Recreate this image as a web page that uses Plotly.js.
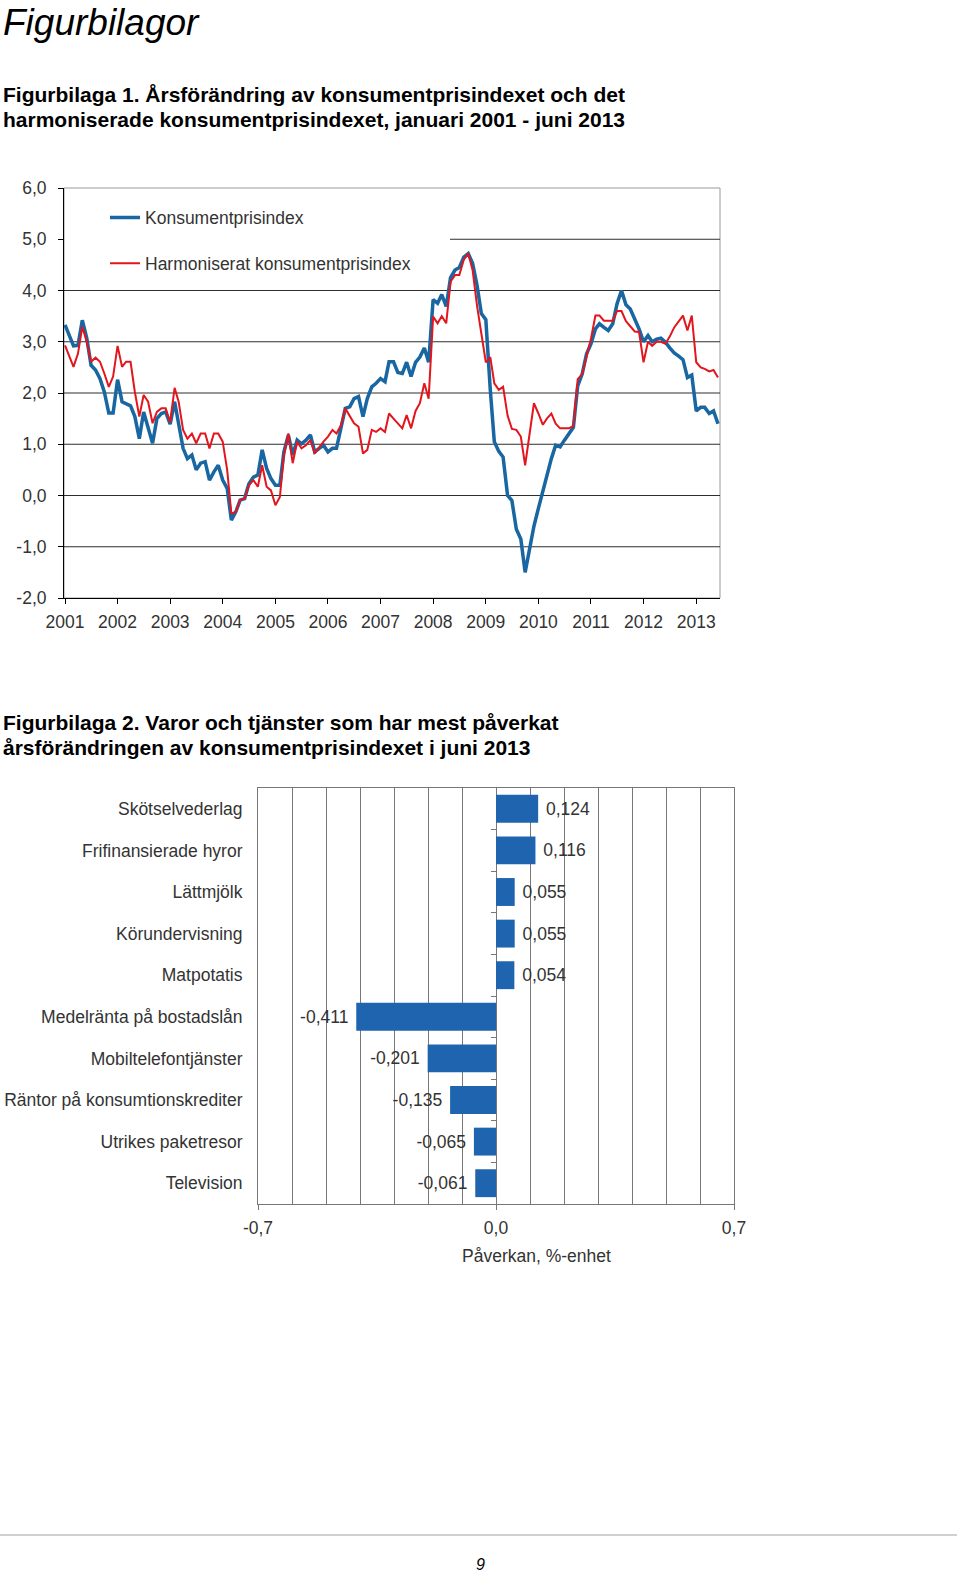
<!DOCTYPE html>
<html>
<head>
<meta charset="utf-8">
<script src="https://cdn.plot.ly/plotly-3.0.1.min.js"></script>
<style>
  html, body { margin: 0; padding: 0; background: #fff; }
  #page { width: 960px; height: 1572px; }
</style>
</head>
<body>
<div id="page"></div>
<script>
// ---------------- DATA ----------------
// Figurbilaga 1: monthly 12-month change (%), January 2001 – June 2013
const startYear = 2001;
const seriesNames = ['Konsumentprisindex', 'Harmoniserat konsumentprisindex'];
const kpi = [
  3.33, 3.13, 2.92, 2.93, 3.42, 3.07, 2.54, 2.45, 2.28, 2.02, 1.61, 1.61,   // 2001
  2.26, 1.83, 1.80, 1.75, 1.54, 1.11, 1.63, 1.31, 1.02, 1.50, 1.60, 1.63,   // 2002
  1.39, 1.83, 1.37, 0.92, 0.72, 0.79, 0.50, 0.63, 0.66, 0.30, 0.46, 0.59,   // 2003
  0.30, 0.14, -0.48, -0.32, -0.09, -0.06, 0.23, 0.36, 0.40, 0.89, 0.53, 0.33, // 2004
  0.20, 0.20, 0.85, 1.18, 0.79, 1.08, 1.01, 1.08, 1.18, 0.85, 0.92, 0.98,   // 2005
  0.85, 0.92, 0.92, 1.31, 1.70, 1.73, 1.89, 1.93, 1.54, 1.89, 2.12, 2.19,   // 2006
  2.28, 2.22, 2.61, 2.61, 2.40, 2.38, 2.60, 2.32, 2.60, 2.70, 2.88, 2.60,   // 2007
  3.82, 3.75, 3.92, 3.69, 4.25, 4.40, 4.45, 4.65, 4.72, 4.53, 4.10, 3.55,   // 2008
  3.43, 2.06, 1.05, 0.86, 0.75, 0.00, -0.10, -0.66, -0.85, -1.50, -1.00, -0.60, // 2009
  -0.25, 0.10, 0.43, 0.72, 0.98, 0.95, 1.08, 1.20, 1.33, 2.14, 2.37, 2.76, // 2010
  2.96, 3.25, 3.35, 3.28, 3.22, 3.35, 3.74, 4.00, 3.72, 3.64, 3.45, 3.25,   // 2011
  3.00, 3.12, 3.00, 3.05, 3.07, 2.99, 2.88, 2.78, 2.72, 2.65, 2.30, 2.35,   // 2012
  1.65, 1.72, 1.72, 1.60, 1.65, 1.40                                        // 2013
];
const hikp = [
  2.93, 2.71, 2.51, 2.77, 3.29, 3.00, 2.61, 2.69, 2.61, 2.38, 2.12, 2.32,   // 2001
  2.92, 2.51, 2.61, 2.61, 2.02, 1.54, 1.96, 1.83, 1.41, 1.63, 1.70, 1.70,   // 2002
  1.43, 2.10, 1.83, 1.28, 1.11, 1.21, 1.02, 1.21, 1.21, 0.92, 1.21, 1.21,   // 2003
  1.05, 0.50, -0.35, -0.32, -0.09, -0.06, 0.20, 0.30, 0.17, 0.59, 0.17, 0.10, // 2004
  -0.19, -0.03, 0.79, 1.21, 0.63, 1.05, 0.92, 0.98, 1.08, 0.82, 0.95, 1.05, // 2005
  1.15, 1.28, 1.21, 1.37, 1.70, 1.54, 1.41, 1.34, 0.82, 0.89, 1.28, 1.24,   // 2006
  1.31, 1.24, 1.60, 1.50, 1.41, 1.31, 1.57, 1.31, 1.65, 1.80, 2.19, 1.89,   // 2007
  3.49, 3.36, 3.50, 3.36, 4.17, 4.30, 4.30, 4.60, 4.72, 4.40, 3.70, 3.20,   // 2008
  2.60, 2.70, 2.19, 2.06, 2.12, 1.56, 1.30, 1.28, 1.15, 0.59, 1.20, 1.80,   // 2009
  1.60, 1.38, 1.50, 1.60, 1.40, 1.31, 1.31, 1.31, 1.36, 2.27, 2.37, 2.73,   // 2010
  3.06, 3.51, 3.51, 3.41, 3.41, 3.41, 3.60, 3.60, 3.40, 3.30, 3.20, 3.19,   // 2011
  2.60, 3.00, 2.92, 3.00, 3.00, 2.96, 3.10, 3.28, 3.41, 3.51, 3.22, 3.51,   // 2012
  2.60, 2.50, 2.47, 2.42, 2.45, 2.30                                        // 2013
];
const yearLabels = ['2001','2002','2003','2004','2005','2006','2007','2008','2009','2010','2011','2012','2013'];
const yTickValues = [-2, -1, 0, 1, 2, 3, 4, 5, 6];

// Figurbilaga 2: contribution to annual change, June 2013 (percentage points)
const categories = ['Skötselvederlag', 'Frifinansierade hyror', 'Lättmjölk', 'Körundervisning', 'Matpotatis',
  'Medelränta på bostadslån', 'Mobiltelefontjänster', 'Räntor på konsumtionskrediter', 'Utrikes paketresor', 'Television'];
const impact = [0.124, 0.116, 0.055, 0.055, 0.054, -0.411, -0.201, -0.135, -0.065, -0.061];
const xTickValues2 = [-0.7, 0, 0.7];
const xTitle2 = 'Påverkan, %-enhet';

// ---------------- HELPERS ----------------
const W = 960, H = 1572;
const px = v => v / W;
const py = v => 1 - v / H;
const fmt = (v, d) => v.toFixed(d).replace('.', ',');
const pad2 = n => (n < 10 ? '0' : '') + n;
const dates = kpi.map((_, i) => {
  const y = startYear + Math.floor(i / 12);
  const m = (i % 12) + 1;
  return y + '-' + pad2(m) + '-01';
});
const FONT = 'Liberation Sans, Arial, sans-serif';
const TXT = '#333333';
const FS = 17.5;

// chart geometry (pixels on the page)
const c1 = { l: 64, r: 720, t: 188, b: 598 };
const c2 = { l: 258, r: 734, t: 788, b: 1204 };
const x2dom = [px(c2.l), px(c2.r)];
const zeroPos = x2dom[0] + (0 - (-0.7)) / 1.4 * (x2dom[1] - x2dom[0]);
const legendGapEnd = (450 - c1.l) / (c1.r - c1.l);   // gridline hidden behind the legend up to here

const boundaries = [];
for (let i = 0; i < categories.length - 1; i++) boundaries.push(i + 0.5);

// ---------------- TRACES ----------------
const traces = [
  {
    type: 'scatter', mode: 'lines', name: seriesNames[0],
    x: dates, y: kpi, xaxis: 'x', yaxis: 'y',
    line: { color: '#1866a2', width: 3.5 },
    legendgroup: 'a', hoverinfo: 'skip'
  },
  {
    type: 'scatter', mode: 'lines', name: seriesNames[1],
    x: dates, y: hikp, xaxis: 'x', yaxis: 'y',
    line: { color: '#e3151d', width: 2 },
    legendgroup: 'b', hoverinfo: 'skip'
  },
  {
    type: 'bar', orientation: 'h',
    x: impact, y: categories, xaxis: 'x2', yaxis: 'y2',
    marker: { color: '#1f64ae', line: { width: 0 } },
    text: impact.map(v => v >= 0 ? '\u00a0' + fmt(v, 3) : fmt(v, 3) + '\u00a0'),
    textposition: 'outside', cliponaxis: false, constraintext: 'none',
    textfont: { family: FONT, size: FS, color: TXT },
    showlegend: false, hoverinfo: 'skip'
  },
  {
    type: 'scatter', mode: 'markers', x: [0], y: [0], xaxis: 'x2', yaxis: 'y3',
    marker: { opacity: 0, size: 1 }, showlegend: false, hoverinfo: 'skip'
  }
];

// ---------------- SHAPES ----------------
const shapes = [];
// grey frame of the line chart (black axis lines are drawn over left and bottom)
shapes.push({ type: 'rect', xref: 'x domain', yref: 'y domain', x0: 0, x1: 1, y0: 0, y1: 1,
  line: { color: '#9a9a9a', width: 1 }, fillcolor: 'rgba(0,0,0,0)', layer: 'below' });
// horizontal gridlines at the inner tick values (the one behind the legend is cut)
yTickValues.slice(1, -1).forEach(v => {
  shapes.push({ type: 'line', xref: 'x domain', yref: 'y', x0: v === 5 ? legendGapEnd : 0, x1: 1, y0: v, y1: v,
    line: { color: '#2e2e2e', width: 1 }, layer: 'below' });
});
// page rule
shapes.push({ type: 'line', xref: 'paper', yref: 'paper', x0: 0, x1: px(957), y0: py(1535), y1: py(1535),
  line: { color: '#a0a0a0', width: 1 } });

// ---------------- LAYOUT ----------------
const ann = (x, y, text, size, opts) => Object.assign({
  xref: 'paper', yref: 'paper', x: px(x), y: py(y), xanchor: 'left', yanchor: 'middle',
  text: text, showarrow: false, font: { family: FONT, size: size, color: '#000' }
}, opts || {});

const layout = {
  width: W, height: H,
  margin: { l: 0, r: 0, t: 0, b: 0 },
  paper_bgcolor: '#ffffff', plot_bgcolor: 'rgba(0,0,0,0)',
  separators: ', ',
  font: { family: FONT, size: FS, color: TXT },
  showlegend: true,
  legend: {
    x: px(105), y: py(199.5), xanchor: 'left', yanchor: 'top',
    bgcolor: 'rgba(0,0,0,0)', borderwidth: 0,
    font: { family: FONT, size: FS, color: TXT },
    tracegroupgap: 20, traceorder: 'grouped', itemwidth: 30
  },
  xaxis: {
    domain: [px(c1.l), px(c1.r)], anchor: 'y', type: 'date',
    range: ['2000-12-25', '2013-06-15'],
    tickmode: 'array',
    tickvals: yearLabels.map(y => y + '-01-01'),
    ticktext: yearLabels,
    ticks: 'outside', ticklen: 5, tickcolor: '#000', tickwidth: 1,
    showline: true, linecolor: '#000', linewidth: 1,
    showgrid: false, zeroline: false,
    tickfont: { family: FONT, size: FS, color: TXT },
    ticklabelstandoff: 3, fixedrange: true
  },
  yaxis: {
    domain: [py(c1.b), py(c1.t)], anchor: 'x',
    range: [-2, 6],
    tickmode: 'array', tickvals: yTickValues, ticktext: yTickValues.map(v => fmt(v, 1)),
    ticks: 'outside', ticklen: 5, tickcolor: '#000', tickwidth: 1,
    showline: true, linecolor: '#000', linewidth: 1,
    showgrid: false, zeroline: false,
    tickfont: { family: FONT, size: FS, color: TXT },
    ticklabelstandoff: 8, fixedrange: true
  },
  xaxis2: {
    domain: x2dom, anchor: 'y2',
    range: [-0.7, 0.7],
    tickmode: 'array', tickvals: xTickValues2, ticktext: xTickValues2.map(v => fmt(v, 1)),
    ticks: 'outside', ticklen: 5, tickcolor: '#777', tickwidth: 1,
    showline: true, mirror: true, linecolor: '#777', linewidth: 1,
    showgrid: true, gridcolor: '#777', gridwidth: 1, zeroline: false,
    minor: { tick0: 0, dtick: 0.1, showgrid: true, gridcolor: '#777', gridwidth: 1, ticks: '' },
    tickfont: { family: FONT, size: FS, color: TXT },
    ticklabelstandoff: 3, fixedrange: true
  },
  yaxis2: {
    domain: [py(c2.b), py(c2.t)], anchor: 'x2',
    type: 'category', autorange: 'reversed',
    ticks: '', showline: true, mirror: true, linecolor: '#777', linewidth: 1,
    showgrid: false, zeroline: false,
    tickfont: { family: FONT, size: FS, color: TXT },
    ticklabelstandoff: 11, fixedrange: true
  },
  yaxis3: {
    overlaying: 'y2', anchor: 'free', position: zeroPos, side: 'left',
    range: [categories.length - 0.5, -0.5],
    tickmode: 'array', tickvals: boundaries,
    ticks: 'outside', ticklen: 5, tickcolor: '#777', tickwidth: 1,
    showticklabels: false, showline: false, showgrid: false, zeroline: false,
    fixedrange: true
  },
  bargap: 0.33,
  shapes: shapes,
  annotations: [
    ann(1, 0, '<i>Figurbilagor</i>', 37, { yanchor: 'top' }),
    ann(1, 94, '<b>Figurbilaga 1. Årsförändring av konsumentprisindexet och det</b>', 21),
    ann(1, 119, '<b>harmoniserade konsumentprisindexet, januari 2001 - juni 2013</b>', 21),
    ann(1, 722, '<b>Figurbilaga 2. Varor och tjänster som har mest påverkat</b>', 21),
    ann(1, 747, '<b>årsförändringen av konsumentprisindexet i juni 2013</b>', 21),
    ann(536, 1256, xTitle2, FS, { xanchor: 'center', font: { family: FONT, size: FS, color: TXT } }),
    ann(480, 1564, '<i>9</i>', 16, { xanchor: 'center' })
  ]
};

Plotly.newPlot('page', traces, layout, { displayModeBar: false, staticPlot: true });
</script>
</body>
</html>
